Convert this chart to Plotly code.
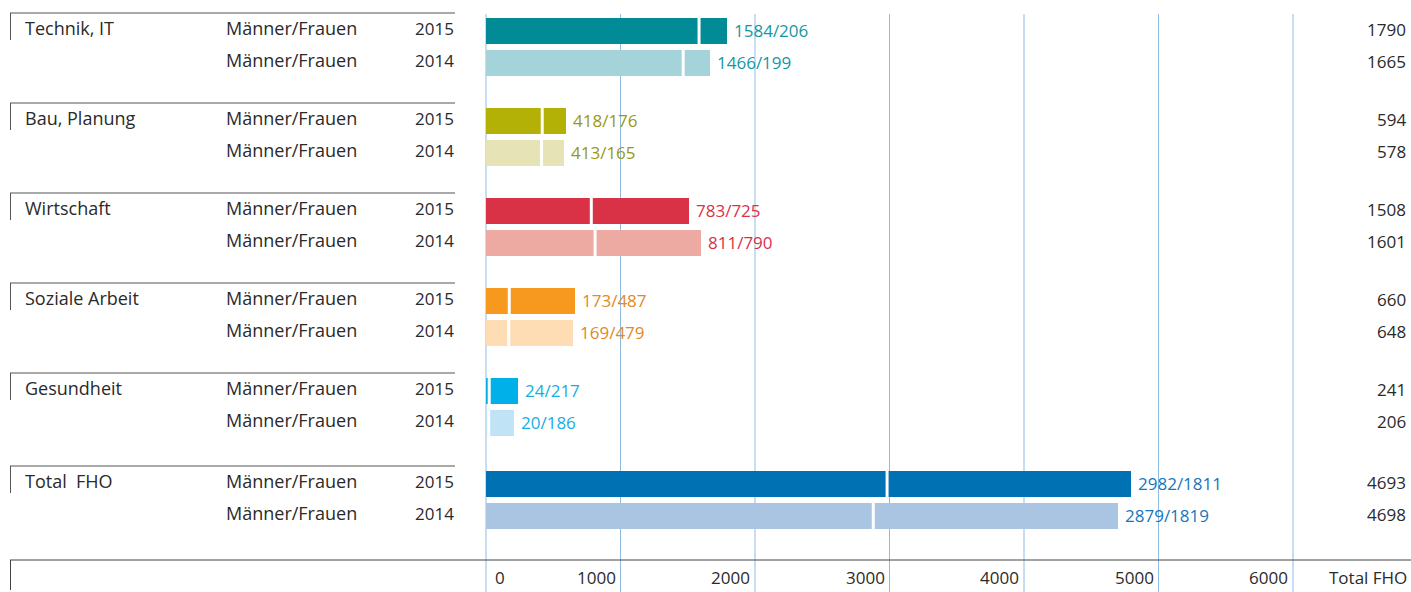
import plotly.graph_objects as go

# ---------------- data ----------------
categories = ["Technik, IT", "Bau, Planung", "Wirtschaft", "Soziale Arbeit", "Gesundheit", "Total  FHO"]
years = ["2015", "2014"]
row_label = "Männer/Frauen"
men_2015 = [1584, 418, 783, 173, 24, 2982]
women_2015 = [206, 176, 725, 487, 217, 1811]
men_2014 = [1466, 413, 811, 169, 20, 2879]
women_2014 = [199, 165, 790, 479, 186, 1819]
total_2015 = [1790, 594, 1508, 660, 241, 4693]
total_2014 = [1665, 578, 1601, 648, 206, 4698]
tick_values = [0, 1000, 2000, 3000, 4000, 5000, 6000]
tick_labels = ["0", "1000", "2000", "3000", "4000", "5000", "6000"]
total_header = "Total FHO"

# ---------------- styles ----------------
color_2015 = ["#008B96", "#B3B006", "#D93247", "#F7991F", "#00B0E8", "#0071B3"]
color_2014 = ["#A5D3DA", "#E6E4B6", "#EDAAA2", "#FFDDB4", "#C0E3F6", "#A9C5E2"]
label_color = ["#1597A2", "#9A980E", "#D93247", "#E08A25", "#14AEE4", "#1576BD"]
TEXT = "#2a2a2a"
GRID = "#8FBBE3"
FONT = "Open Sans"
W, H = 1411, 592
X0_PX, PX_PER_UNIT = 486, 0.1345   # pixel of value 0, pixels per unit

def px(x):
    return x / W

def row_y(g, r):
    return 31 + 90 * g + 32 * r + (3 if g == len(categories) - 1 else 0)

ys, men, women, cols, bar_tot, shown_tot, lab_cols, lab_txt = [], [], [], [], [], [], [], []
for g in range(len(categories)):
    for r, (m, w, c, t) in enumerate([(men_2015, women_2015, color_2015, total_2015),
                                       (men_2014, women_2014, color_2014, total_2014)]):
        ys.append(row_y(g, r))
        men.append(m[g]); women.append(w[g]); cols.append(c[g])
        bar_tot.append(m[g] + w[g]); shown_tot.append(t[g])
        lab_cols.append(label_color[g]); lab_txt.append(f"{m[g]}/{w[g]}")

fig = go.Figure()
fig.add_trace(go.Bar(y=ys, x=men, orientation="h", width=26, marker=dict(color=cols, line=dict(width=0)),
                     hoverinfo="skip", name="Männer"))
fig.add_trace(go.Bar(y=ys, x=women, orientation="h", width=26, marker=dict(color=cols, line=dict(width=0)),
                     hoverinfo="skip", name="Frauen"))

shapes = []
annotations = []
# grid lines
for v in tick_values:
    shapes.append(dict(type="line", xref="x", yref="y", x0=v, x1=v, y0=14, y1=H,
                       line=dict(color=GRID, width=1), layer="below"))
# separators between men and women
for y, m in zip(ys, men):
    shapes.append(dict(type="line", xref="x", yref="y", x0=m, x1=m, y0=y - 13, y1=y + 13,
                       line=dict(color="white", width=3), layer="above"))
# group header lines
for g, cat in enumerate(categories):
    yt = row_y(g, 0) - 18
    shapes.append(dict(type="line", xref="paper", yref="y", x0=px(10), x1=px(455), y0=yt, y1=yt,
                       line=dict(color="#555555", width=1)))
    shapes.append(dict(type="line", xref="paper", yref="y", x0=px(10.5), x1=px(10.5), y0=yt, y1=yt + 27,
                       line=dict(color="#555555", width=1)))
    annotations.append(dict(xref="paper", yref="y", x=px(23), y=row_y(g, 0) - 3, text=cat, showarrow=False,
                            xanchor="left", yanchor="middle", font=dict(size=18, color=TEXT, family=FONT)))
    for r, yr in enumerate(years):
        yy = row_y(g, r) - 3
        annotations.append(dict(xref="paper", yref="y", x=px(224), y=yy, text=row_label, showarrow=False,
                                xanchor="left", yanchor="middle", font=dict(size=18, color=TEXT, family=FONT)))
        annotations.append(dict(xref="paper", yref="y", x=px(456), y=yy, text=yr, showarrow=False,
                                xanchor="right", yanchor="middle", font=dict(size=17, color=TEXT, family=FONT)))
# bar labels and totals
for y, bt, st, lc, lt in zip(ys, bar_tot, shown_tot, lab_cols, lab_txt):
    annotations.append(dict(xref="x", yref="y", x=bt, y=y - 1, text=lt, showarrow=False, xshift=5,
                            xanchor="left", yanchor="middle", font=dict(size=17, color=lc, family=FONT)))
    annotations.append(dict(xref="paper", yref="y", x=px(1408), y=y - 2, text=str(st), showarrow=False,
                            xanchor="right", yanchor="middle", font=dict(size=17, color=TEXT, family=FONT)))
# bottom axis line
shapes.append(dict(type="line", xref="paper", yref="y", x0=px(10), x1=1, y0=560, y1=560,
                   line=dict(color="#444444", width=1)))
shapes.append(dict(type="line", xref="paper", yref="y", x0=px(10.5), x1=px(10.5), y0=560, y1=590,
                   line=dict(color="#444444", width=1)))
for v, t in zip(tick_values, tick_labels):
    if v == 0:
        annotations.append(dict(xref="x", yref="y", x=v, y=577, text=t, showarrow=False, xshift=7,
                                xanchor="left", yanchor="middle", font=dict(size=17, color=TEXT, family=FONT)))
    else:
        annotations.append(dict(xref="x", yref="y", x=v, y=577, text=t, showarrow=False, xshift=-3,
                                xanchor="right", yanchor="middle", font=dict(size=17, color=TEXT, family=FONT)))
annotations.append(dict(xref="paper", yref="y", x=px(1409), y=577, text=total_header, showarrow=False,
                        xanchor="right", yanchor="middle", font=dict(size=17, color=TEXT, family=FONT)))

xmin = -X0_PX / PX_PER_UNIT
xmax = (W - X0_PX) / PX_PER_UNIT
fig.update_layout(
    width=W, height=H, margin=dict(l=0, r=0, t=0, b=0),
    paper_bgcolor="white", plot_bgcolor="white", barmode="stack", showlegend=False,
    xaxis=dict(range=[xmin, xmax], domain=[0, 1], showgrid=False, zeroline=False, showticklabels=False,
               fixedrange=True),
    yaxis=dict(range=[H, 0], domain=[0, 1], showgrid=False, zeroline=False, showticklabels=False,
               fixedrange=True),
    shapes=shapes, annotations=annotations,
    font=dict(family=FONT),
)
fig.write_html("out.html")
